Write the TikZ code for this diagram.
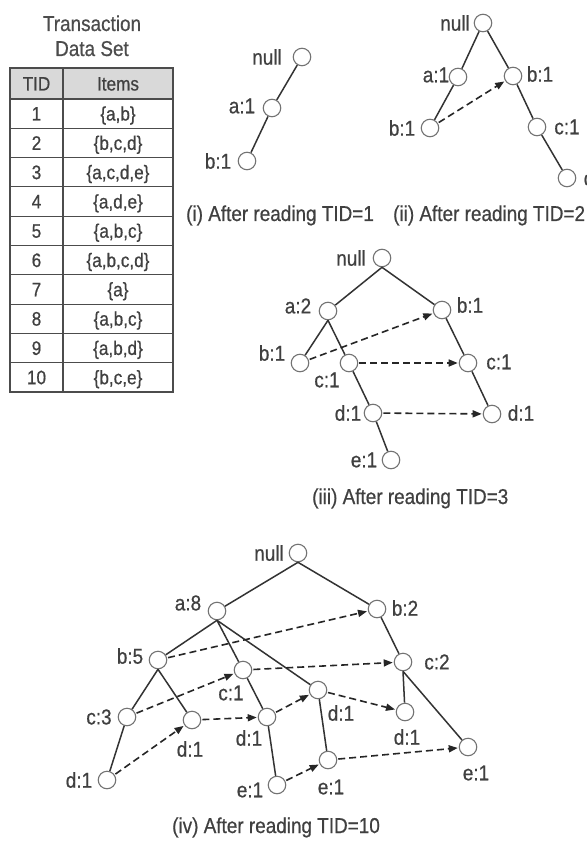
\documentclass[tikz,border=0pt]{standalone}
\usepackage{fontspec}
\setmainfont{Liberation Sans}[FakeStretch=0.88,FakeBold=0.6]
\usetikzlibrary{arrows.meta}
\begin{document}
\begin{tikzpicture}[x=1pt,y=-1pt,
  nd/.style={circle,draw=black!55,line width=1.1pt,fill=white,minimum size=17.5pt,inner sep=0pt},
  lb/.style={inner sep=0pt,font=\fontsize{21.5}{24}\selectfont,text=black!75},
  captxt/.style={inner sep=0pt,anchor=base west,font=\fontsize{21.5}{24}\selectfont,text=black!75},
  ttl/.style={inner sep=0pt,anchor=base,font=\fontsize{21.5}{24}\selectfont,text=black!70},
  tb/.style={inner sep=0pt,anchor=base,font=\fontsize{19.5}{21}\selectfont,text=black!75},
  tedge/.style={line width=1.5pt,draw=black!80},
  lnk/.style={line width=1.6pt,draw=black!85,dash pattern=on 7pt off 4pt,-{Triangle[length=9pt,width=7pt]},shorten >=1pt,shorten <=1pt}]
\useasboundingbox (0,0) rectangle (586,842);
\fill[white] (0,0) rectangle (586,842);
% ---------- table ----------
\node[ttl] (ttl1) at (92,31) {Transaction};
\node[ttl] (ttl2) at (92,56) {Data Set};
\fill[black!15] (10,68) rectangle (173,99);
\foreach \i in {0,...,9} \draw[black!70,line width=1.1pt] (10,{99+29.3*\i}) -- (173,{99+29.3*\i});
\draw[black!70,line width=1.1pt] (63,68) -- (63,392);
\draw[black!70,line width=1.3pt] (10,68) rectangle (173,392);
\node[tb] (hTID) at (36.5,90.5) {TID};
\node[tb] (hIt) at (118,90.5) {Items};
\node[tb] (r1) at (36.5,120.5) {1};   \node[tb] (s1) at (118,120.5) {\{a,b\}};
\node[tb] (r2) at (36.5,149.8) {2};   \node[tb] (s2) at (118,149.8) {\{b,c,d\}};
\node[tb] (r3) at (36.5,179.1) {3};   \node[tb] (s3) at (118,179.1) {\{a,c,d,e\}};
\node[tb] (r4) at (36.5,208.4) {4};   \node[tb] (s4) at (118,208.4) {\{a,d,e\}};
\node[tb] (r5) at (36.5,237.7) {5};   \node[tb] (s5) at (118,237.7) {\{a,b,c\}};
\node[tb] (r6) at (36.5,267.0) {6};   \node[tb] (s6) at (118,267.0) {\{a,b,c,d\}};
\node[tb] (r7) at (36.5,296.3) {7};   \node[tb] (s7) at (118,296.3) {\{a\}};
\node[tb] (r8) at (36.5,325.6) {8};   \node[tb] (s8) at (118,325.6) {\{a,b,c\}};
\node[tb] (r9) at (36.5,354.9) {9};   \node[tb] (s9) at (118,354.9) {\{a,b,d\}};
\node[tb] (r10) at (36.5,384.2) {10}; \node[tb] (s10) at (118,384.2) {\{b,c,e\}};
% ---------- tree (i) ----------
\node[nd] (n1) at (302,57) {};
\node[nd] (a1) at (272,108) {};
\node[nd] (b1) at (247,161) {};
\draw[tedge] (n1) -- (a1);
\draw[tedge] (a1) -- (b1);
\node[lb] (ln1) at (267,57) {null};
\node[lb] (la1) at (242,106) {a:1};
\node[lb] (lb1) at (218,161) {b:1};
\node[captxt] (cp1) at (186,221) {(i) After reading TID=1};
% ---------- tree (ii) ----------
\node[nd] (n2) at (483,23) {};
\node[nd] (a2) at (458,77) {};
\node[nd] (b2r) at (513,76) {};
\node[nd] (b2l) at (430,128) {};
\node[nd] (c2) at (537,127) {};
\node[nd] (d2) at (567,178) {};
\draw[tedge] (n2) -- (a2);
\draw[tedge] (a2) -- (b2l);
\draw[tedge] (n2) -- (b2r);
\draw[tedge] (b2r) -- (c2);
\draw[tedge] (c2) -- (d2);
\draw[lnk] (b2l) -- (b2r);
\node[lb] (ln2) at (455,23) {null};
\node[lb] (la2) at (436,75) {a:1};
\node[lb] (lb2r) at (540,74) {b:1};
\node[lb] (lb2l) at (402,128) {b:1};
\node[lb] (lc2) at (567,127) {c:1};
\node[lb] (ld2) at (597,178) {d:1};
\node[captxt] (cp2) at (393,221) {(ii) After reading TID=2};
% ---------- tree (iii) ----------
\node[nd] (n3) at (382,258) {};
\node[nd] (a3) at (328,311) {};
\node[nd] (b3r) at (442,310) {};
\node[nd] (b3l) at (300,363) {};
\node[nd] (c3m) at (349,363) {};
\node[nd] (c3r) at (468,363) {};
\node[nd] (d3m) at (373,413) {};
\node[nd] (d3r) at (492,414) {};
\node[nd] (e3) at (391,460) {};
\draw[tedge] (n3.south) -- (a3);
\draw[tedge] (n3.south) -- (b3r);
\draw[tedge] (a3.south) -- (b3l);
\draw[tedge] (a3.south) -- (c3m);
\draw[tedge] (c3m) -- (d3m);
\draw[tedge] (d3m) -- (e3);
\draw[tedge] (b3r) -- (c3r);
\draw[tedge] (c3r) -- (d3r);
\draw[lnk] (b3l) -- (b3r);
\draw[lnk] (c3m) -- (c3r);
\draw[lnk] (d3m) -- (d3r);
\node[lb] (ln3) at (351,258) {null};
\node[lb] (la3) at (298,306) {a:2};
\node[lb] (lb3r) at (470,305) {b:1};
\node[lb] (lb3l) at (272,353) {b:1};
\node[lb] (lc3m) at (327,380) {c:1};
\node[lb] (lc3r) at (499,362) {c:1};
\node[lb] (ld3m) at (348,413) {d:1};
\node[lb] (ld3r) at (521,413) {d:1};
\node[lb] (le3) at (364,460) {e:1};
\node[captxt] (cp3) at (312,504) {(iii) After reading TID=3};
% ---------- tree (iv) ----------
\node[nd] (n4) at (298,553) {};
\node[nd] (a4) at (217,611) {};
\node[nd] (b4r) at (377,609) {};
\node[nd] (b4) at (158,660) {};
\node[nd] (c4m) at (243,670) {};
\node[nd] (c4r) at (403,662) {};
\node[nd] (d4a) at (318,690) {};
\node[nd] (c4l) at (127,717) {};
\node[nd] (d4b) at (192,720) {};
\node[nd] (d4c) at (267,717) {};
\node[nd] (d4e) at (405,712) {};
\node[nd] (d4d) at (107,780) {};
\node[nd] (e4a) at (277,785) {};
\node[nd] (e4b) at (328,760) {};
\node[nd] (e4c) at (468,747) {};
\draw[tedge] (n4.south) -- (a4);
\draw[tedge] (n4.south) -- (b4r);
\draw[tedge] (a4.south) -- (b4);
\draw[tedge] (a4.south) -- (c4m);
\draw[tedge] (a4.south) -- (d4a);
\draw[tedge] (b4.south) -- (c4l);
\draw[tedge] (b4.south) -- (d4b);
\draw[tedge] (c4l) -- (d4d);
\draw[tedge] (c4m) -- (d4c);
\draw[tedge] (d4c) -- (e4a);
\draw[tedge] (d4a) -- (e4b);
\draw[tedge] (b4r) -- (c4r);
\draw[tedge] (c4r.south) -- (d4e);
\draw[tedge] (c4r.south) -- (e4c);
\draw[lnk] (b4) -- (b4r);
\draw[lnk] (c4l) -- (c4m);
\draw[lnk] (c4m) -- (c4r);
\draw[lnk] (d4d) -- (d4b);
\draw[lnk] (d4b) -- (d4c);
\draw[lnk] (d4c) -- (d4a);
\draw[lnk] (d4a) -- (d4e);
\draw[lnk] (e4a) -- (e4b);
\draw[lnk] (e4b) -- (e4c);
\node[lb] (ln4) at (269,553) {null};
\node[lb] (la4) at (188,603) {a:8};
\node[lb] (lb4r) at (405,608) {b:2};
\node[lb] (lb4) at (130,656) {b:5};
\node[lb] (lc4m) at (231,693) {c:1};
\node[lb] (lc4r) at (437,662) {c:2};
\node[lb] (ld4a) at (341,713) {d:1};
\node[lb] (lc4l) at (99,717) {c:3};
\node[lb] (ld4b) at (190,749) {d:1};
\node[lb] (ld4c) at (249,738) {d:1};
\node[lb] (ld4e) at (407,737) {d:1};
\node[lb] (ld4d) at (79,780) {d:1};
\node[lb] (le4a) at (250,790) {e:1};
\node[lb] (le4b) at (331,787) {e:1};
\node[lb] (le4c) at (476,773) {e:1};
\node[captxt] (cp4) at (172,833) {(iv) After reading TID=10};
\end{tikzpicture}
\end{document}
